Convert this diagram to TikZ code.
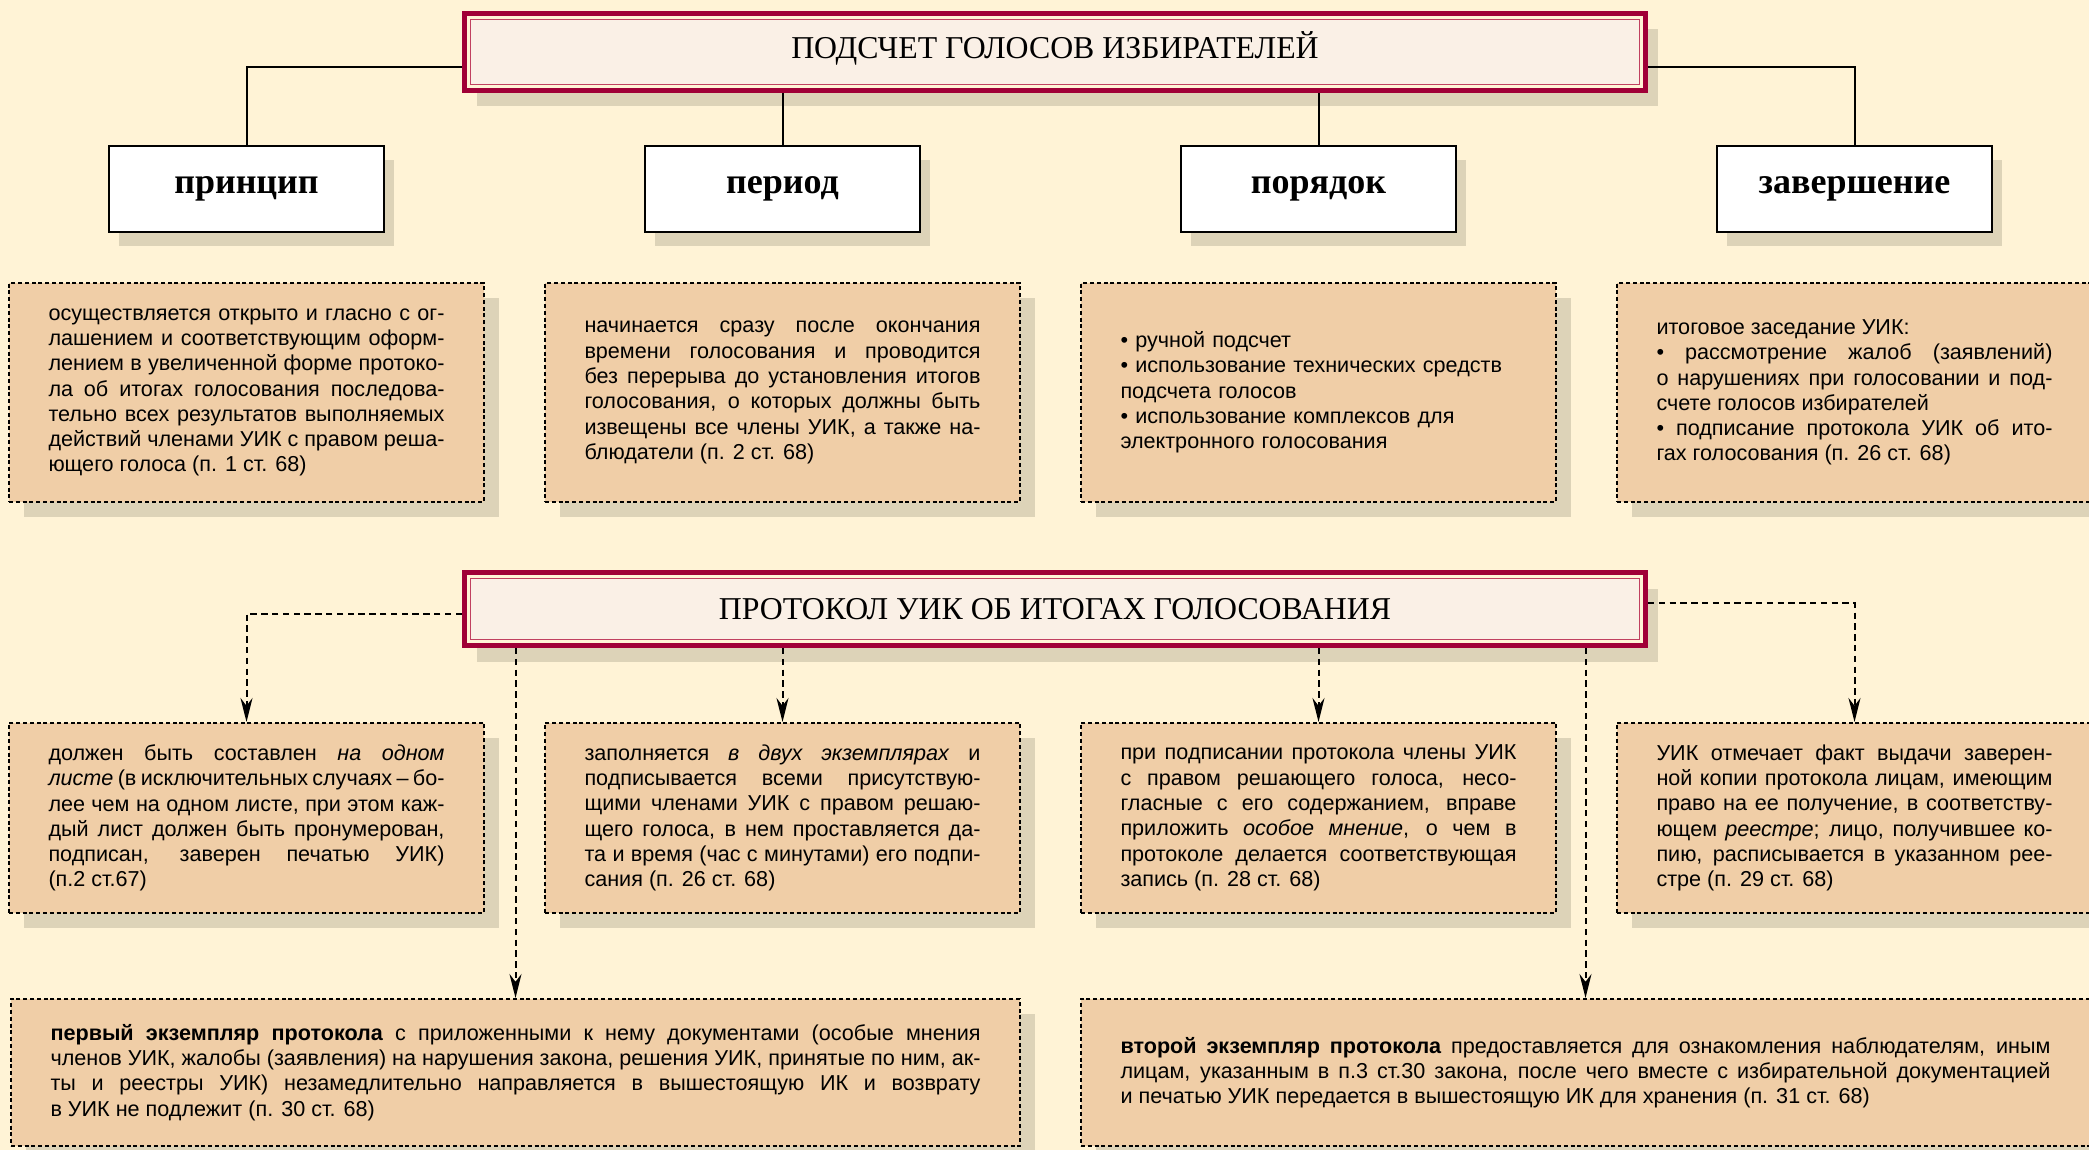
\documentclass[tikz,border=0pt]{standalone}
\usepackage{fontspec}
\setmainfont{Liberation Sans}
\newfontfamily\headfont{Liberation Serif}
\usetikzlibrary{positioning,shadows,arrows.meta}
\definecolor{bgcream}{HTML}{FFF3D6}
\definecolor{boxtan}{HTML}{F0CEA7}
\definecolor{shadetan}{HTML}{DDD3B8}
\definecolor{crimson}{HTML}{A00037}
\definecolor{pinkline}{HTML}{C04060}
\definecolor{titlefill}{HTML}{FAF0E6}
\setlength{\parindent}{0pt}
\tolerance=10000

\begin{document}
\begin{tikzpicture}[>={Stealth[length=12pt,width=6pt]}, node distance=268pt,
	title/.style={draw=crimson, line width=2.5pt, fill=bgcream, minimum width=590.5pt,
		font=\headfont\fontsize{15.9}{18}\selectfont,
		drop shadow={shadow xshift=6pt, shadow yshift=-8pt, fill=shadetan, opacity=1},
		path picture={\draw[pinkline, line width=0.75pt, fill=titlefill]
			([shift={(2.9pt,-2.9pt)}]path picture bounding box.north west) rectangle
			([shift={(-2.9pt,2.9pt)}]path picture bounding box.south east);}},
	head/.style={draw, line width=1pt, fill=white, minimum width=137.5pt, minimum height=43pt,
		font=\headfont\bfseries\fontsize{18}{20}\selectfont,
		drop shadow={shadow xshift=5pt, shadow yshift=-7pt, fill=shadetan, opacity=1}},
	info/.style={draw, line width=1pt, dash pattern=on 2pt off 1.4pt, fill=boxtan,
		text width=198pt, inner xsep=19.75pt, align=justify,
		font=\fontsize{10.8}{12.65}\selectfont,
		drop shadow={shadow xshift=7.5pt, shadow yshift=-7.5pt, fill=shadetan, opacity=1}},
	link/.style={line width=1pt},
	dlink/.style={line width=1pt, dash pattern=on 3.2pt off 2.2pt}]
	\fill[bgcream] (0,0) rectangle (1044.5pt,-575pt);
	\useasboundingbox (0,0) rectangle (1044.5pt,-575pt);

	\node (count) [title, minimum height=38.5pt, text depth=7pt] at (527.5pt,-26pt) {ПОДСЧЕТ ГОЛОСОВ ИЗБИРАТЕЛЕЙ};
	\node (principle) [head] at (123.25pt,-94.5pt) {принцип};
	\node (period) [head, right of=principle] {период};
	\node (order) [head, right of=period] {порядок};
	\node (finish) [head, right of=order] {завершение};

	\node (principletxt) [info, minimum height=109.5pt, below of=principle, node distance=101.75pt]
		{осуществляется открыто и гласно с ог-\linebreak
		лашением и соответствующим оформ-\linebreak
		лением в увеличенной форме протоко-\linebreak
		ла об итогах голосования последова-\linebreak
		тельно всех результатов выполняемых\linebreak
		действий членами УИК с правом реша-\linebreak
		ющего голоса (п. 1 ст. 68)};
	\node (periodtxt) [info, minimum height=109.5pt, right of=principletxt]
		{начинается сразу после окончания\linebreak
		времени голосования и проводится\linebreak
		без перерыва до установления итогов\linebreak
		голосования, о которых должны быть\linebreak
		извещены все члены УИК, а также на-\linebreak
		блюдатели (п. 2 ст. 68)};
	\node (ordertxt) [info, minimum height=109.5pt, align=left, right of=periodtxt]
		{• ручной подсчет\\
		• использование технических средств\\
		подсчета голосов\\
		• использование комплексов для\\
		электронного голосования};
	\node (finishtxt) [info, minimum height=109.5pt, right of=ordertxt]
		{итоговое заседание УИК:\\
		• рассмотрение жалоб (заявлений)\linebreak
		о нарушениях при голосовании и под-\linebreak
		счете голосов избирателей\\
		• подписание протокола УИК об ито-\linebreak
		гах голосования (п. 26 ст. 68)};

	\node (protocol) [title, minimum height=36.5pt] at (527.5pt,-304.5pt) {ПРОТОКОЛ УИК ОБ ИТОГАХ ГОЛОСОВАНИЯ};

	\node (sheet) [info, minimum height=95pt, below of=principletxt, node distance=212.75pt]
		{должен быть составлен \textit{на одном}\linebreak
		{\spaceskip=0.18em plus 0.2em minus 0.04em \textit{листе} (в исключительных случаях – бо-}\linebreak
		лее чем на одном листе, при этом каж-\linebreak
		дый лист должен быть пронумерован,\linebreak
		подписан, заверен печатью УИК)\linebreak
		(п.2 ст.67)};
	\node (copies) [info, minimum height=95pt, right of=sheet]
		{заполняется \textit{в двух экземплярах} и\linebreak
		подписывается всеми присутствую-\linebreak
		щими членами УИК с правом решаю-\linebreak
		щего голоса, в нем проставляется да-\linebreak
		та и время (час с минутами) его подпи-\linebreak
		сания (п. 26 ст. 68)};
	\node (dissent) [info, minimum height=95pt, right of=copies]
		{при подписании протокола члены УИК\linebreak
		с правом решающего голоса, несо-\linebreak
		гласные с его содержанием, вправе\linebreak
		приложить \textit{особое мнение}, о чем в\linebreak
		протоколе делается соответствующая\linebreak
		запись (п. 28 ст. 68)};
	\node (registry) [info, minimum height=95pt, right of=dissent]
		{УИК отмечает факт выдачи заверен-\linebreak
		ной копии протокола лицам, имеющим\linebreak
		право на ее получение, в соответству-\linebreak
		ющем \textit{реестре}; лицо, получившее ко-\linebreak
		пию, расписывается в указанном рее-\linebreak
		стре (п. 29 ст. 68)};

	\node (first) [info, text width=465pt, minimum height=73.5pt] at (257.75pt,-536.25pt)
		{\textbf{первый экземпляр протокола} с приложенными к нему документами (особые мнения\linebreak
		членов УИК, жалобы (заявления) на нарушения закона, решения УИК, принятые по ним, ак-\linebreak
		ты и реестры УИК) незамедлительно направляется в вышестоящую ИК и возврату\linebreak
		в УИК не подлежит (п. 30 ст. 68)};
	\node (second) [info, text width=465pt, minimum height=73.5pt, right of=first, node distance=535pt]
		{\textbf{второй экземпляр протокола} предоставляется для ознакомления наблюдателям, иным\linebreak
		лицам, указанным в п.3 ст.30 закона, после чего вместе с избирательной документацией\linebreak
		и печатью УИК передается в вышестоящую ИК для хранения (п. 31 ст. 68)};

	\draw[link] ([yshift=-7.5pt]count.west) -| (principle.north);
	\draw[link] (count.south -| period.north) -- (period.north);
	\draw[link] (count.south -| order.north) -- (order.north);
	\draw[link] ([yshift=-7.5pt]count.east) -| (finish.north);

	\draw[dlink, ->] ([yshift=-2.5pt]protocol.west) -| (sheet.north);
	\draw[dlink, ->] (protocol.south -| copies.north) -- (copies.north);
	\draw[dlink, ->] (protocol.south -| dissent.north) -- (dissent.north);
	\draw[dlink, ->] ([yshift=3pt]protocol.east) -| (registry.north);
	\draw[dlink, ->] (protocol.south -| first.north) -- (first.north);
	\draw[dlink, ->] (protocol.south -| second.north) -- (second.north);
\end{tikzpicture}
\end{document}
